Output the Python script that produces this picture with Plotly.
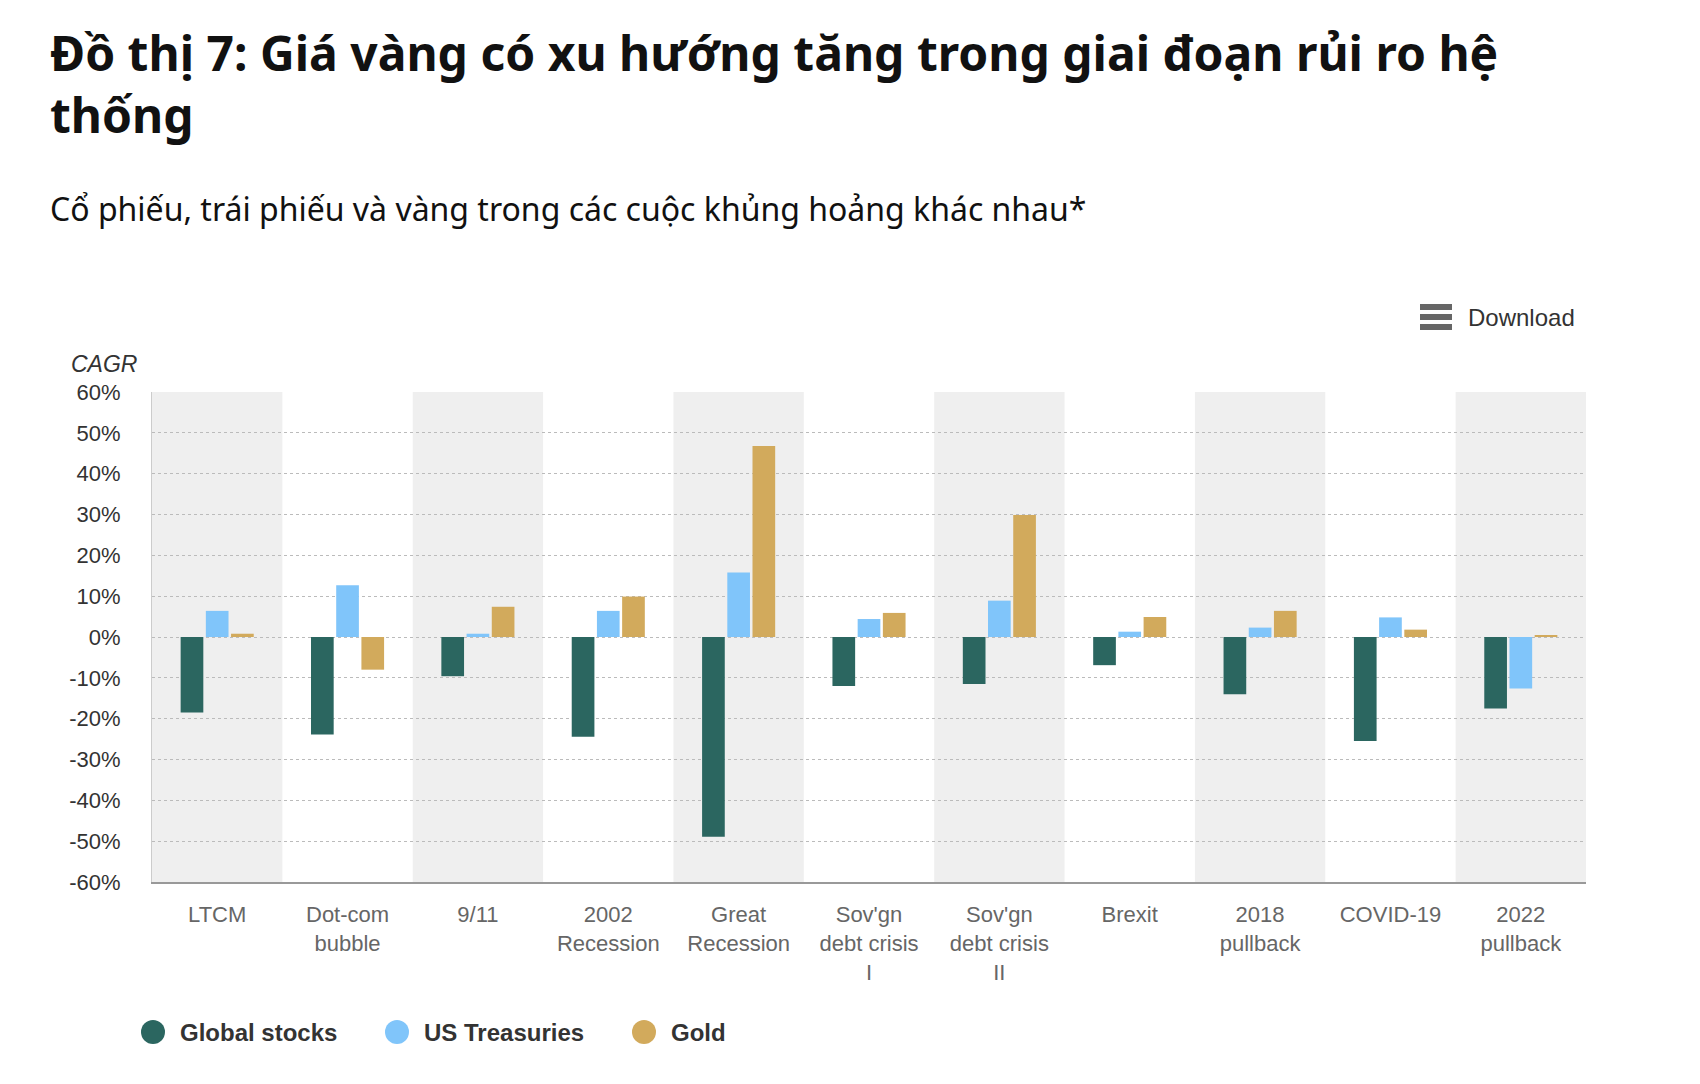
import plotly.graph_objects as go

categories = ["LTCM", "Dot-com<br>bubble", "9/11", "2002<br>Recession", "Great<br>Recession",
              "Sov'gn<br>debt crisis<br>I", "Sov'gn<br>debt crisis<br>II", "Brexit",
              "2018<br>pullback", "COVID-19", "2022<br>pullback"]
global_stocks = [-18.5, -23.9, -9.6, -24.4, -48.9, -12.0, -11.5, -6.9, -14.0, -25.5, -17.5]
us_treasuries = [6.4, 12.7, 0.8, 6.4, 15.8, 4.4, 8.9, 1.3, 2.3, 4.8, -12.6]
gold = [0.8, -8.0, 7.4, 9.9, 46.8, 5.9, 29.9, 4.9, 6.4, 1.8, 0.4]
y_ticks = list(range(-60, 61, 10))

series = [("Global stocks", global_stocks, "#2B6660"),
          ("US Treasuries", us_treasuries, "#80C5FA"),
          ("Gold", gold, "#D2AA5C")]

# plot area in pixels
L, R, T, B = 152, 1586, 392, 882
W, H = R - L, B - T


def px(x):
    return (x - L) / W


def py(y):
    return (B - y) / H


fig = go.Figure()
for name, vals, color in series:
    fig.add_trace(go.Bar(x=categories, y=vals, name=name, marker_color=color,
                         marker_line_width=0, showlegend=False))

shapes = []
for i in range(0, len(categories), 2):
    shapes.append(dict(type="rect", xref="x", yref="paper", x0=i - 0.5, x1=i + 0.5,
                       y0=0, y1=1, fillcolor="#EFEFEF", line_width=0, layer="below"))
# hamburger icon
for yy in [307, 317, 327]:
    shapes.append(dict(type="line", xref="paper", yref="paper", x0=px(1420), x1=px(1452),
                       y0=py(yy), y1=py(yy), line=dict(color="#666666", width=6)))

FONT = "Liberation Sans, Arial, sans-serif"
annotations = [
    dict(text="<b>Đồ thị 7: Giá vàng có xu hướng tăng trong giai đoạn rủi ro hệ<br>thống</b>",
         xref="paper", yref="paper", x=px(48), y=py(83), xanchor="left", yanchor="middle",
         align="left", showarrow=False,
         font=dict(family="Noto Sans", size=48, color="#111111")),
    dict(text="Cổ phiếu, trái phiếu và vàng trong các cuộc khủng hoảng khác nhau*",
         xref="paper", yref="paper", x=px(48), y=py(209),
         xanchor="left", yanchor="middle", showarrow=False,
         font=dict(family="Noto Sans", size=32, color="#111111")),
    dict(text="<i>CAGR</i>", xref="paper", yref="paper", x=px(69),
         y=py(364), xanchor="left", yanchor="middle", showarrow=False,
         font=dict(family=FONT, size=23, color="#333333")),
    dict(text="Download", xref="paper", yref="paper", x=px(1466),
         y=py(317), xanchor="left", yanchor="middle", showarrow=False,
         font=dict(family=FONT, size=24, color="#333333")),
]

# legend drawn manually (large circles as in the reference)
legend_x = [153, 397, 644]
for (name, vals, color), cx in zip(series, legend_x):
    shapes.append(dict(type="circle", xref="paper", yref="paper",
                       x0=px(cx - 12), x1=px(cx + 12), y0=py(1032 + 12), y1=py(1032 - 12),
                       fillcolor=color, line_width=0))
    annotations.append(dict(text=f"<b>{name}</b>", xref="paper", yref="paper",
                            x=px(cx + 25), y=py(1032), xanchor="left", yanchor="middle",
                            showarrow=False, font=dict(family=FONT, size=24, color="#333333")))

fig.update_layout(
    width=1700, height=1084,
    margin=dict(l=L, r=1700 - R, t=T, b=1084 - B),
    paper_bgcolor="white", plot_bgcolor="white",
    barmode="group", bargap=0.42, bargroupgap=0.1,
    shapes=shapes, annotations=annotations, showlegend=False,
    font=dict(family=FONT, color="#333333"),
)
fig.update_yaxes(range=[-60, 60], tickvals=y_ticks, ticktext=[f"{v}%" for v in y_ticks],
                 showgrid=True, gridcolor="#BBBBBB", griddash="dot", gridwidth=1,
                 zeroline=False, showline=True, linecolor="#CCCCCC", linewidth=1,
                 ticks="", ticklabelstandoff=26,
                 tickfont=dict(family=FONT, size=22, color="#333333"))
fig.update_xaxes(showgrid=False, showline=True, linecolor="#999999", linewidth=2,
                 ticks="", ticklabelstandoff=12,
                 tickfont=dict(family=FONT, size=22, color="#666666"))

fig.write_html("out.html")
